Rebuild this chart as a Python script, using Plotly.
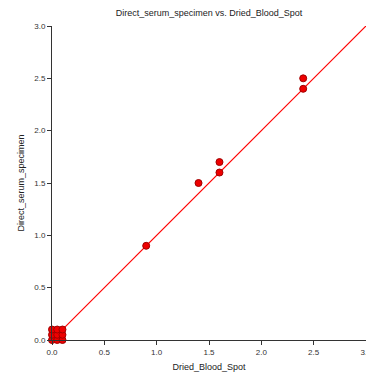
import plotly.graph_objects as go

dbs = [0.0, 0.05, 0.1, 0.0, 0.05, 0.1, 0.0, 0.05, 0.1, 0.9, 1.4, 1.6, 1.6, 2.4, 2.4]
serum = [0.0, 0.0, 0.0, 0.05, 0.05, 0.05, 0.1, 0.1, 0.1, 0.9, 1.5, 1.6, 1.7, 2.4, 2.5]
line_x = [0, 3]
line_y = [0, 3]
ticks = [0, 0.5, 1.0, 1.5, 2.0, 2.5, 3.0]
tick_text = ["0.0", "0.5", "1.0", "1.5", "2.0", "2.5", "3.0"]

fig = go.Figure()
fig.add_trace(go.Scatter(x=line_x, y=line_y, mode="lines",
                         line=dict(color="#ff0000", width=1.2), opacity=1, hoverinfo="skip"))
fig.add_trace(go.Scatter(x=dbs, y=serum, mode="markers", cliponaxis=False,
                         marker=dict(color="rgb(238,0,0)", size=7,
                                     line=dict(color="rgb(160,0,0)", width=1))))

axis_common = dict(showgrid=False, zeroline=False, showline=True, linecolor="#333333",
                   linewidth=1, ticks="outside", ticklen=4, tickcolor="#333333",
                   tickfont=dict(family="Liberation Sans, Arial", size=8, color="#333333"),
                   tickvals=ticks, ticktext=tick_text, range=[0, 3], automargin=False,
                   ticklabeloverflow="allow")

fig.update_layout(
    width=366, height=372,
    margin=dict(l=52, r=0, t=26, b=32),
    paper_bgcolor="white", plot_bgcolor="white",
    showlegend=False,
    font=dict(family="Liberation Sans, Arial", color="#222222"),
    title=dict(text="Direct_serum_specimen vs. Dried_Blood_Spot", x=0.571, xanchor="center",
               y=1 - 13/372, yanchor="middle", font=dict(size=9, color="#222222")),
    xaxis=dict(**axis_common, title=dict(text="Dried_Blood_Spot", font=dict(size=9), standoff=8)),
    yaxis=dict(**axis_common, title=dict(text="Direct_serum_specimen", font=dict(size=9), standoff=8)),
)

fig.write_html("out.html")
